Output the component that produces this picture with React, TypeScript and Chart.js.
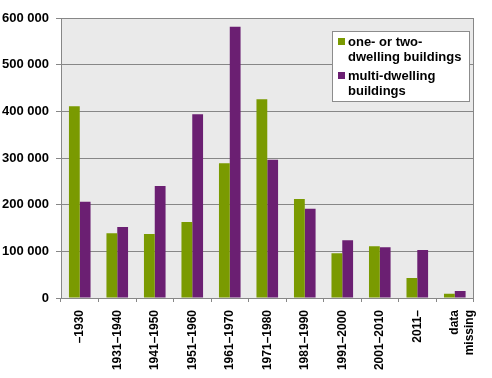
import React, { useEffect, useRef } from "react";
import { Chart, registerables } from "chart.js";

Chart.register(...registerables);

const categories: (string | string[])[] = [
  "–1930", "1931–1940", "1941–1950", "1951–1960", "1961–1970", "1971–1980",
  "1981–1990", "1991–2000", "2001–2010", "2011–", ["data", "missing"],
];
const oneTwoDwelling = [411000, 139000, 137000, 163000, 289000, 426000, 212000, 96000, 111000, 43000, 9000];
const multiDwelling = [206000, 152000, 240000, 394000, 581000, 296000, 191000, 124000, 109000, 103000, 15000];
const seriesLabels = [["one- or two-", "dwelling buildings"], ["multi-dwelling", "buildings"]];
const seriesColors = ["#7a9a01", "#6b1f72"];
const yTicks = [0, 100000, 200000, 300000, 400000, 500000, 600000];

const GRID = "#878787";

const areaPlugin = {
  id: "areaPlugin",
  beforeDraw(chart: any) {
    const { ctx, chartArea } = chart;
    ctx.save();
    ctx.fillStyle = "#eaeaea";
    ctx.fillRect(chartArea.left, chartArea.top, chartArea.right - chartArea.left, chartArea.bottom - chartArea.top);
    ctx.restore();
  },
  afterDraw(chart: any) {
    const { ctx, chartArea } = chart;
    ctx.save();
    ctx.strokeStyle = GRID;
    ctx.lineWidth = 1;
    ctx.beginPath();
    ctx.moveTo(Math.round(chartArea.right) - 0.5, chartArea.top);
    ctx.lineTo(Math.round(chartArea.right) - 0.5, chartArea.bottom);
    ctx.stroke();

    // legend
    const bx = 332.5, by = 31.5, bw = 137, bh = 70;
    ctx.fillStyle = "#ffffff";
    ctx.fillRect(bx, by, bw, bh);
    ctx.strokeStyle = "#8c8c8c";
    ctx.strokeRect(bx, by, bw, bh);
    ctx.font = "bold 13px 'Liberation Sans', Arial, sans-serif";
    ctx.textBaseline = "alphabetic";
    ctx.textAlign = "left";
    const ds = chart.data.datasets;
    let y = 46;
    ds.forEach((d: any) => {
      ctx.fillStyle = d.backgroundColor;
      ctx.fillRect(338, y - 8, 7, 7);
      ctx.fillStyle = "#000";
      const lines: string[] = d.legendLines;
      lines.forEach((ln, j) => {
        ctx.fillText(ln, 348, y + j * 15);
      });
      y += lines.length * 15 + 4;
    });
    ctx.restore();
  },
};

export default function App() {
  const ref = useRef<HTMLCanvasElement | null>(null);
  useEffect(() => {
    document.body.style.margin = "0";
    const canvas = ref.current!;
    const chart = new Chart(canvas, {
      type: "bar",
      data: {
        labels: categories,
        datasets: [
          {
            label: seriesLabels[0].join(" "),
            data: oneTwoDwelling,
            backgroundColor: seriesColors[0],
            categoryPercentage: 0.576,
            barPercentage: 1,
            legendLines: seriesLabels[0],
          } as any,
          {
            label: seriesLabels[1].join(" "),
            data: multiDwelling,
            backgroundColor: seriesColors[1],
            categoryPercentage: 0.576,
            barPercentage: 1,
            legendLines: seriesLabels[1],
          } as any,
        ],
      },
      options: {
        responsive: false,
        animation: false,
        layout: { padding: { top: 18, right: 9, left: 0, bottom: 0 } },
        plugins: { legend: { display: false }, tooltip: { enabled: false } },
        scales: {
          x: {
            grid: { display: true, drawOnChartArea: false, drawTicks: true, tickLength: 4, color: GRID, offset: true },
            border: { display: true, color: GRID, width: 1 },
            ticks: {
              autoSkip: false,
              maxRotation: 90,
              minRotation: 90,
              padding: 8,
              color: "#000",
              font: { family: "'Liberation Sans', Arial, sans-serif", size: 12, weight: "bold" },
            },
            afterFit(scale: any) {
              scale.height = 80;
            },
          },
          y: {
            min: 0,
            max: 600000,
            afterBuildTicks(scale: any) {
              scale.ticks = yTicks.map((v) => ({ value: v }));
            },
            grid: { color: GRID, tickLength: 5, drawTicks: true },
            border: { display: true, color: GRID, width: 1 },
            ticks: {
              padding: 7,
              color: "#000",
              font: { family: "'Liberation Sans', Arial, sans-serif", size: 13, weight: "bold" },
              callback: (v: any) => String(v).replace(/\B(?=(\d{3})+(?!\d))/g, " "),
            },
            afterFit(scale: any) {
              scale.width = 61;
            },
          },
        },
      },
      plugins: [areaPlugin],
    });
    return () => chart.destroy();
  }, []);
  return <canvas ref={ref} width={492} height={378} style={{ display: "block" }} />;
}
